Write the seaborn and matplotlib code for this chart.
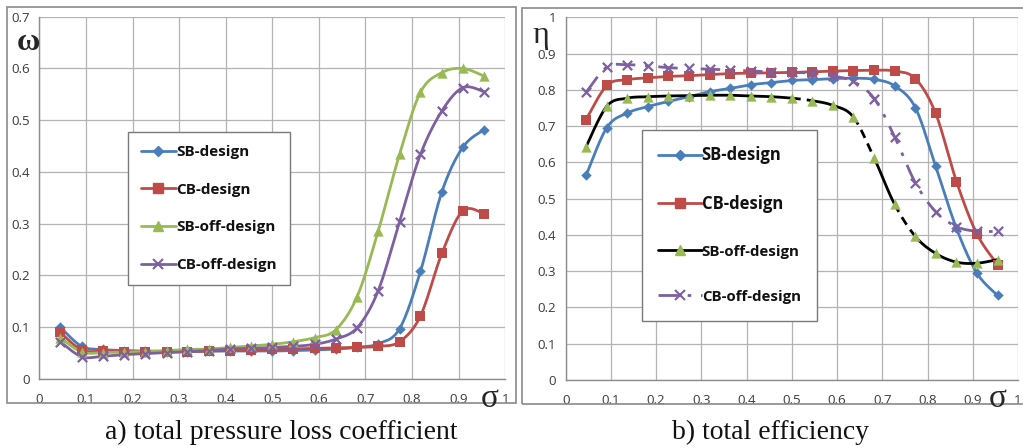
import numpy as np
import matplotlib
matplotlib.use('Agg')
import matplotlib.pyplot as plt
import seaborn as sns
from matplotlib.lines import Line2D
from matplotlib.patches import Rectangle

# ---------------- data ----------------
sigma = [0.045, 0.091, 0.136, 0.182, 0.227, 0.273, 0.318, 0.364, 0.409, 0.455, 0.5,
         0.545, 0.591, 0.636, 0.682, 0.727, 0.773, 0.818, 0.864, 0.909, 0.955]
series_names = ['SB-design', 'CB-design', 'SB-off-design', 'CB-off-design']

omega_sb = [0.100, 0.063, 0.057, 0.055, 0.054, 0.053, 0.053, 0.054, 0.054, 0.054, 0.054,
            0.055, 0.056, 0.058, 0.061, 0.068, 0.097, 0.208, 0.362, 0.448, 0.482]
omega_cb = [0.090, 0.056, 0.054, 0.053, 0.053, 0.052, 0.053, 0.054, 0.055, 0.056, 0.057,
            0.058, 0.059, 0.060, 0.061, 0.063, 0.072, 0.122, 0.243, 0.325, 0.319]
omega_sb_off = [0.080, 0.052, 0.051, 0.052, 0.053, 0.055, 0.057, 0.058, 0.061, 0.064, 0.067,
                0.072, 0.080, 0.095, 0.159, 0.285, 0.434, 0.554, 0.592, 0.600, 0.585]
omega_cb_off = [0.072, 0.043, 0.044, 0.047, 0.049, 0.051, 0.053, 0.055, 0.058, 0.059, 0.061,
                0.063, 0.067, 0.077, 0.099, 0.170, 0.304, 0.434, 0.518, 0.563, 0.555]

eta_sb = [0.564, 0.696, 0.736, 0.754, 0.768, 0.781, 0.795, 0.804, 0.814, 0.820, 0.826,
          0.828, 0.831, 0.832, 0.829, 0.811, 0.751, 0.589, 0.418, 0.295, 0.233]
eta_cb = [0.718, 0.812, 0.828, 0.833, 0.837, 0.839, 0.842, 0.845, 0.846, 0.847, 0.848,
          0.850, 0.852, 0.853, 0.854, 0.852, 0.831, 0.735, 0.547, 0.403, 0.318]
eta_sb_off = [0.643, 0.755, 0.777, 0.781, 0.783, 0.784, 0.785, 0.785, 0.783, 0.781, 0.777,
              0.770, 0.757, 0.725, 0.612, 0.485, 0.396, 0.349, 0.325, 0.322, 0.332]
eta_cb_off = [0.793, 0.863, 0.869, 0.866, 0.861, 0.859, 0.857, 0.855, 0.852, 0.849, 0.848,
              0.846, 0.838, 0.823, 0.776, 0.671, 0.544, 0.464, 0.423, 0.410, 0.410]

xticks = [0, 0.1, 0.2, 0.3, 0.4, 0.5, 0.6, 0.7, 0.8, 0.9, 1]
xtick_labels = ['0', '0.1', '0.2', '0.3', '0.4', '0.5', '0.6', '0.7', '0.8', '0.9', '1']
omega_ticks = [0, 0.1, 0.2, 0.3, 0.4, 0.5, 0.6, 0.7]
omega_labels = ['0', '0.1', '0.2', '0.3', '0.4', '0.5', '0.6', '0.7']
eta_ticks = [0, 0.1, 0.2, 0.3, 0.4, 0.5, 0.6, 0.7, 0.8, 0.9, 1]
eta_labels = ['0', '0.1', '0.2', '0.3', '0.4', '0.5', '0.6', '0.7', '0.8', '0.9', '1']

# ---------------- style ----------------
sns.set_theme(style='white')
plt.rcParams['font.family'] = ['Open Sans', 'DejaVu Sans']

BLUE = '#4A7EBB'
RED = '#BE4B48'
GREEN = '#98B954'
PURPLE = '#7D60A0'
GRID = '#B3B3B3'
SERIF = ['Liberation Serif', 'DejaVu Serif']


def bezier_segments(x, y, n=24):
    """Excel-like smoothed line: cubic Bezier between consecutive data points."""
    P = np.column_stack([x, y]).astype(float)
    segs = []
    t = np.linspace(0, 1, n)[:, None]
    for i in range(len(P) - 1):
        p0 = P[i - 1] if i > 0 else P[i]
        p1, p2 = P[i], P[i + 1]
        p3 = P[i + 2] if i + 2 < len(P) else P[i + 1]
        c1 = p1 + (p2 - p0) / 6.0
        c2 = p2 - (p3 - p1) / 6.0
        seg = (1 - t) ** 3 * p1 + 3 * (1 - t) ** 2 * t * c1 + 3 * (1 - t) * t ** 2 * c2 + t ** 3 * p2
        segs.append(seg)
    return segs


def draw_series(ax, x, y, color, marker, msize, line_color=None, ls='-', dashed_segs=(),
                mlw=0.0, lw=2.0):
    lc = line_color or color
    segs = bezier_segments(x, y)
    if not dashed_segs:
        pts = np.vstack(segs)
        sns.lineplot(x=pts[:, 0], y=pts[:, 1], ax=ax, color=lc, lw=lw, sort=False,
                     estimator=None, zorder=3)
        ax.lines[-1].set_linestyle(ls)
    else:
        for i, seg in enumerate(segs):
            sns.lineplot(x=seg[:, 0], y=seg[:, 1], ax=ax, color=lc, lw=lw, sort=False,
                         estimator=None, zorder=3)
            if i in dashed_segs:
                ax.lines[-1].set_linestyle((0, (3.2, 2.2)))
    if marker == 'x':
        sns.scatterplot(x=x, y=y, ax=ax, marker='x', s=msize, color=color, linewidth=1.6,
                        zorder=4)
    else:
        sns.scatterplot(x=x, y=y, ax=ax, marker=marker, s=msize, color=color,
                        edgecolor=color, linewidth=mlw, zorder=4)


def style_axes(ax, ylim, yticks, ylabels):
    ax.set_xlim(0, 1)
    ax.set_ylim(*ylim)
    ax.set_xticks(xticks)
    ax.set_xticklabels(xtick_labels)
    ax.set_yticks(yticks)
    ax.set_yticklabels(ylabels)
    ax.grid(True, color=GRID, lw=0.9)
    ax.set_axisbelow(True)
    for s in ['top', 'right']:
        ax.spines[s].set_visible(False)
    for s in ['left', 'bottom']:
        ax.spines[s].set_color('#8C8C8C')
        ax.spines[s].set_linewidth(1.0)
    ax.tick_params(axis='both', which='major', direction='out', length=4, width=0.9,
                   color='#8C8C8C', labelsize=9.5, labelcolor='#3A3A3A', pad=3)
    ax.tick_params(axis='x', pad=6)
    ax.set_xlabel('')
    ax.set_ylabel('')


fig = plt.figure(figsize=(10.23, 4.48), dpi=100)

# panel frames
fig.patches.append(Rectangle((7 / 1023, 1 - 403 / 448), 509 / 1023, 396 / 448,
                             transform=fig.transFigure, fill=False, ec='#8A8A8A', lw=1.2))
fig.patches.append(Rectangle((522 / 1023, 1 - 404 / 448), 520 / 1023, 396 / 448,
                             transform=fig.transFigure, fill=False, ec='#8A8A8A', lw=1.2))

axL = fig.add_axes([39.3 / 1023, 1 - 379 / 448, 466 / 1023, 362.3 / 448])
axR = fig.add_axes([565.7 / 1023, 1 - 380 / 448, 452.3 / 1023, 362.7 / 448])

# ---- left: total pressure loss coefficient ----
draw_series(axL, sigma, omega_sb, BLUE, 'D', 28)
draw_series(axL, sigma, omega_cb, RED, 's', 50)
draw_series(axL, sigma, omega_sb_off, GREEN, '^', 55)
draw_series(axL, sigma, omega_cb_off, PURPLE, 'x', 45)
style_axes(axL, (0, 0.7), omega_ticks, omega_labels)

hL = [Line2D([], [], color=BLUE, lw=2, marker='D', ms=5.5, mec=BLUE),
      Line2D([], [], color=RED, lw=2, marker='s', ms=7, mec=RED),
      Line2D([], [], color=GREEN, lw=2, marker='^', ms=7.5, mec=GREEN),
      Line2D([], [], color=PURPLE, lw=2, marker='x', ms=7, mew=1.5)]
legL = axL.legend(hL, series_names, loc='upper left', bbox_to_anchor=(0.19, 0.682),
                  frameon=True, fancybox=False, edgecolor='#7A7A7A', framealpha=1,
                  handlelength=2.3, handletextpad=0.0, labelspacing=1.55,
                  borderpad=0.85, borderaxespad=0,
                  prop={'weight': 'bold', 'size': 11})
legL.get_frame().set_linewidth(1.0)
for t in legL.get_texts():
    t.set_color('#111111')

# ---- right: total efficiency ----
draw_series(axR, sigma, eta_sb, BLUE, 'D', 28)
draw_series(axR, sigma, eta_cb, RED, 's', 50)
draw_series(axR, sigma, eta_sb_off, GREEN, '^', 55, line_color='black',
            dashed_segs=(10, 13, 15))
draw_series(axR, sigma, eta_cb_off, PURPLE, 'x', 45, ls=(0, (7, 3.5, 1.3, 3.5)))
style_axes(axR, (0, 1), eta_ticks, eta_labels)

hR = [Line2D([], [], color=BLUE, lw=2, marker='D', ms=5.5, mec=BLUE),
      Line2D([], [], color=RED, lw=2, marker='s', ms=7, mec=RED),
      Line2D([], [], color='black', lw=2, marker='^', ms=7.5, mfc=GREEN, mec=GREEN),
      Line2D([], [], color=PURPLE, lw=2, marker='x', ms=7, mew=1.5,
             ls=(0, (7, 3.5, 1.3, 3.5)))]
legR = axR.legend(hR, series_names, loc='upper left', bbox_to_anchor=(0.168, 0.69),
                  frameon=True, fancybox=False, edgecolor='#7A7A7A', framealpha=1,
                  handlelength=2.6, handletextpad=0.0, labelspacing=1.85,
                  borderpad=1.0, borderaxespad=0,
                  prop={'weight': 'bold', 'size': 12})
legR.get_frame().set_linewidth(1.0)
for i, t in enumerate(legR.get_texts()):
    t.set_color('#111111')
    if i >= 2:
        t.set_fontsize(10.8)

# axis symbols
fig.text(28 / 1023, 1 - 43 / 448, 'ω', fontsize=23, fontweight='bold',
         family=SERIF, ha='center', va='center')
fig.text(490 / 1023, 1 - 399 / 448, 'σ', fontsize=24,
         family=SERIF, ha='center', va='center')
fig.text(541 / 1023, 1 - 36 / 448, 'η', fontsize=23,
         family=SERIF, ha='center', va='center')
fig.text(998 / 1023, 1 - 399 / 448, 'σ', fontsize=24,
         family=SERIF, ha='center', va='center')

# captions
fig.text(281 / 1023, 1 - 432 / 448, 'a) total pressure loss coefficient', fontsize=20,
         family=SERIF, ha='center', va='center', color='#111111')
fig.text(770 / 1023, 1 - 432 / 448, 'b) total efficiency', fontsize=20,
         family=SERIF, ha='center', va='center', color='#111111')

fig.savefig('out.png', dpi=100)
